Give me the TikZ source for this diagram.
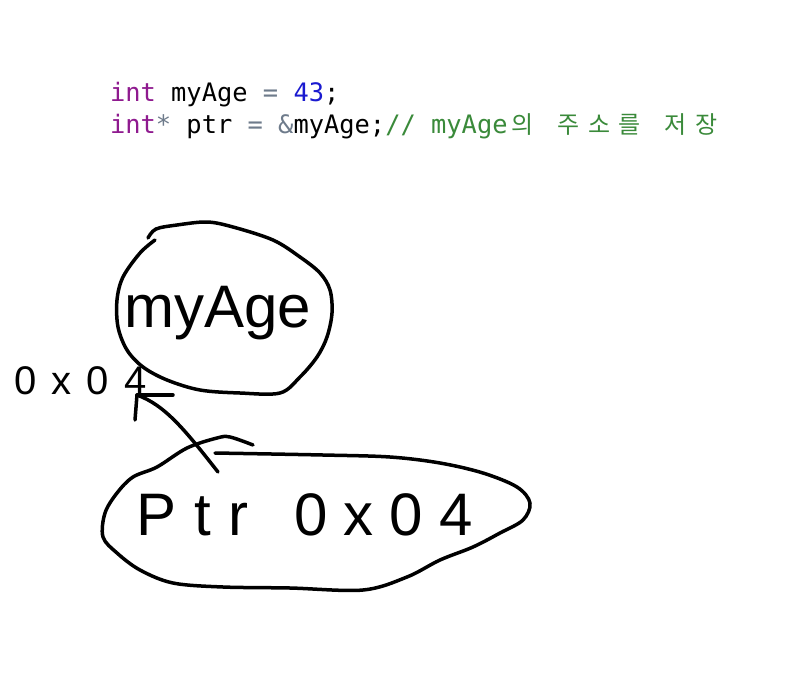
\documentclass[tikz,border=0pt]{standalone}
\usepackage{fontspec}
\setmainfont{Liberation Sans}
\newfontfamily\codefont{DejaVu Sans Mono}
\newfontfamily\kofont{Noto Sans CJK KR}
\newfontfamily\handfont{Liberation Sans}
\definecolor{kw}{HTML}{8F1A8F}
\definecolor{num}{HTML}{1A1AD0}
\definecolor{op}{HTML}{6E7B8B}
\definecolor{cm}{HTML}{3A8A3A}
\tikzset{
  code/.style={inner sep=0pt, outer sep=0pt, anchor=base west, font=\codefont\fontsize{25.4}{30}\selectfont},
  ko/.style={inner sep=0pt, anchor=base, text=cm, font=\kofont\fontsize{24}{28}\selectfont},
  hand/.style={inner sep=0pt, anchor=base west, font=\handfont\fontsize{60}{70}\selectfont},
  sketch/.style={line width=3.5pt, line cap=round, line join=round},
}
\begin{document}
\begin{tikzpicture}[x=1pt,y=-1pt]
\useasboundingbox (0,0) rectangle (801,675);
\fill[white] (0,0) rectangle (801,675);
% code
\node[code] (l1) at (110,101) {\textcolor{kw}{int} myAge \textcolor{op}{=} \textcolor{num}{43};};
\node[code] (l2) at (110,133) {\textcolor{kw}{int}\textcolor{op}{*} ptr \textcolor{op}{=} \textcolor{op}{\&}myAge;\textcolor{cm}{// myAge}};
\node[ko] (k1) at (523,133) {의};
\node[ko] (k2) at (569,133) {주};
\node[ko] (k3) at (599.6,133) {소};
\node[ko] (k4) at (630,133) {를};
\node[ko] (k5) at (676,133) {저};
\node[ko] (k6) at (706.6,133) {장};
% top ellipse
\draw[sketch] plot[smooth, tension=0.55] coordinates {
 (148,238) (156,229) (177,225) (207,222) (233,227) (273,240) (300,257) (320,273) (330,290) (332,313) (327,337) (317,357) (300,377) (280,393) (240,393) (200,390) (167,380) (143,367) (127,350) (118,327) (117,300) (123,277) (140,253) (155,240)};
\node[hand] (myage) at (124,327) {myAge};
% bottom ellipse
\draw[sketch] plot[smooth, tension=0.55] coordinates {
 (215,453) (323,455) (390,457) (440,463) (483,473) (517,487) (530,503) (523,520) (500,533) (473,547) (440,560) (407,577) (363,590) (290,588) (223,587) (173,583) (140,570) (117,553) (103,537) (105,513) (117,493) (133,477) (157,467) (187,448) (217,438) (230,437) (253,445)};
\node[hand, font=\handfont\fontsize{60}{70}\selectfont\addfontfeature{LetterSpace=30}] (ptr) at (136,535) {Ptr};
\node[hand, font=\handfont\fontsize{60}{70}\selectfont\addfontfeature{LetterSpace=27}] (addr) at (294,535) {0x04};
% left address label
\node[hand, font=\handfont\fontsize{40}{48}\selectfont\addfontfeature{LetterSpace=38}] (leftaddr) at (14,394) {0x04};
% arrow
\coordinate (tip) at (137,395);
\coordinate (tail) at (218,472);
\draw[sketch] (tail) .. controls (185,430) and (165,405) .. (tip);
\draw[sketch] (tip) -- (173,395);
\draw[sketch] (tip) -- (135,420);
\end{tikzpicture}
\end{document}
